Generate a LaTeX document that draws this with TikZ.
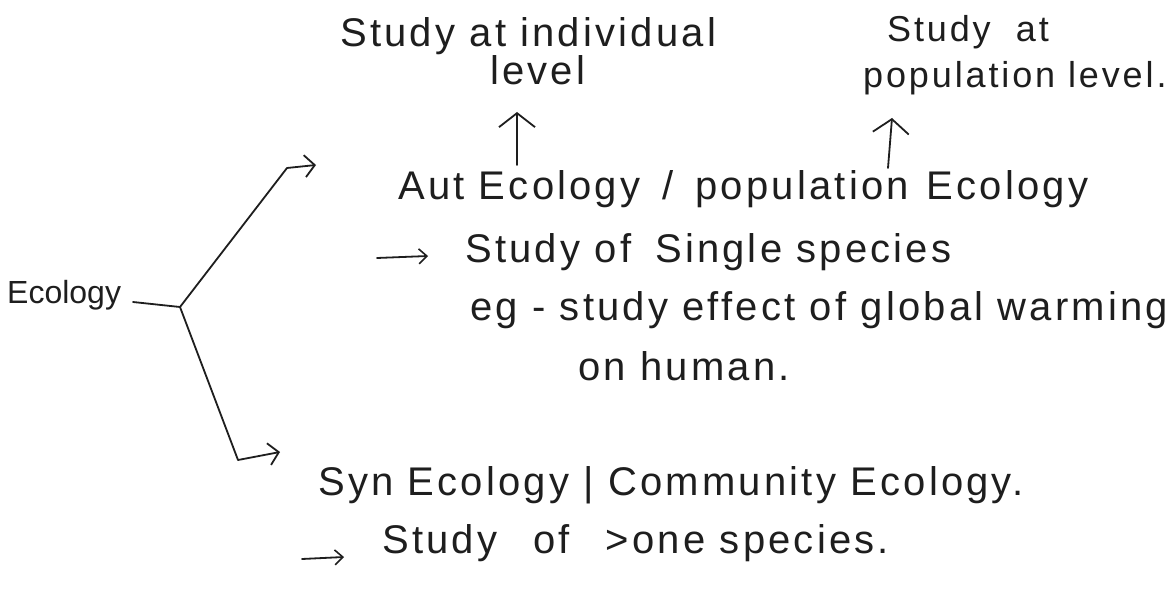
\documentclass[tikz,border=0pt]{standalone}
\usepackage{fontspec}
\setmainfont{Liberation Sans}[LetterSpace=8]
\usetikzlibrary{arrows.meta}
\definecolor{ink}{HTML}{1E1E1E}
\begin{document}
\begin{tikzpicture}[x=1pt,y=-1pt,
  txt/.style={font=\fontsize{40}{48}\selectfont, text=ink, inner sep=0pt, anchor=base west},
  smalltxt/.style={txt, font=\fontsize{36}{44}\selectfont},
  pen/.style={draw=ink, line width=1.8pt, line cap=round, line join=round},
  bigarrow/.style={-{Straight Barb[length=14pt,width=36pt,line width=1.8pt]}},
  harrow/.style={-{Straight Barb[length=10pt,width=22pt,line width=1.8pt]}},
  bulletarrow/.style={-{Straight Barb[length=8pt,width=15pt,line width=1.6pt]}}]
\useasboundingbox[fill=white] (0,0) rectangle (1175,596);

% texts
\node[txt] (indiv) at (340,47) {Study at individual};
\node[txt] (indlev) at (490,85) {level};
\node[smalltxt] (popat) at (887,42) {Study\hspace{0.7em}at};
\node[smalltxt] (poplev) at (863,88) {population level.};
\node[txt] (aut) at (398,200) {Aut Ecology\hspace{0.55em}/\hspace{0.55em}population\hspace{0.45em}Ecology};
\node[txt] (single) at (465,262) {Study of\hspace{0.6em}Single species};
\node[txt] (eg) at (470,320) {eg - study effect of global warming};
\node[txt] (human) at (578,380) {on human.};
\node[txt, font=\fontsize{32}{38}\selectfont\addfontfeature{LetterSpace=0}] (eco) at (7,303) {Ecology};
\node[txt] (syn) at (318,495) {Syn Ecology | Community Ecology.};
\node[txt] (more) at (382,553) {Study\hspace{0.9em}of\hspace{0.9em}>one species.};

% coordinates
\coordinate (stub) at (133,302);
\coordinate (j) at (180,307);
\coordinate (tk) at (287,168);
\coordinate (te) at (316,165);
\coordinate (bk) at (238,460);
\coordinate (be) at (280,452);
\coordinate (u1s) at (517,165);
\coordinate (u1e) at (517,112);
\coordinate (u2s) at (888,168);
\coordinate (u2e) at (892,118);
\coordinate (a1s) at (377,258);
\coordinate (a1e) at (428,256);
\coordinate (a2s) at (302,559);
\coordinate (a2e) at (344,557);

% connectors
\draw[pen] (stub) -- (j);
\draw[pen,harrow] (j) -- (tk) -- (te);
\draw[pen,harrow] (j) -- (bk) -- (be);
\draw[pen,bigarrow] (u1s) -- (u1e);
\draw[pen,bigarrow] (u2s) -- (u2e);
\draw[pen,bulletarrow] (a1s) -- (a1e);
\draw[pen,bulletarrow] (a2s) -- (a2e);
\end{tikzpicture}
\end{document}
